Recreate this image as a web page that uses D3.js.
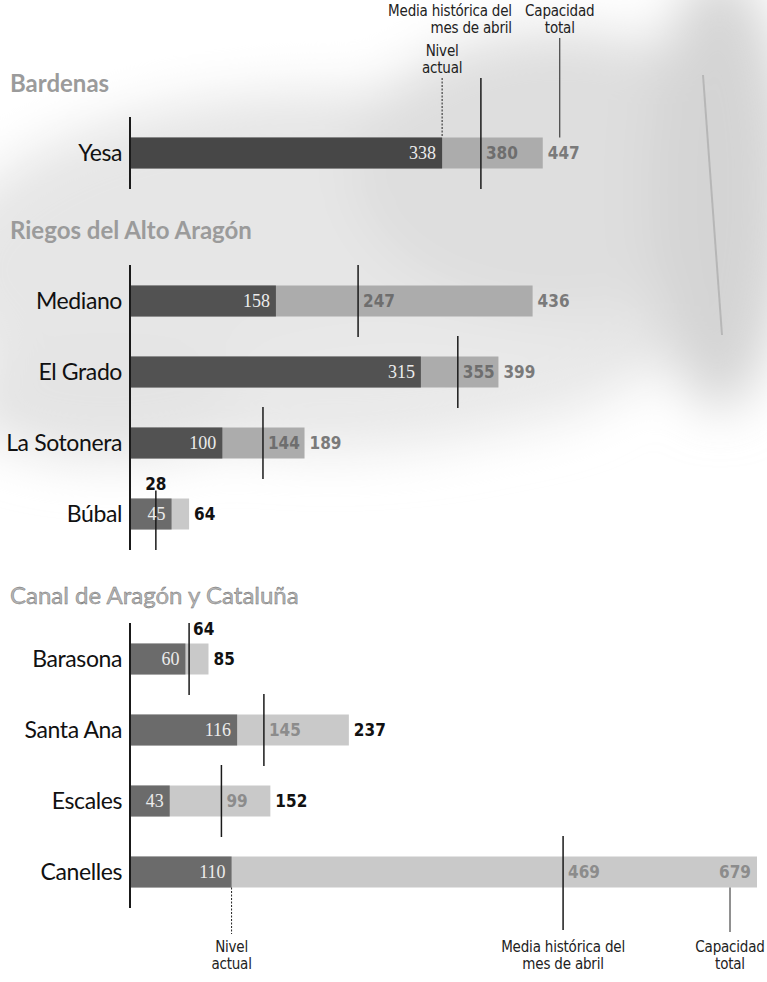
<!DOCTYPE html>
<html lang="es">
<head>
<meta charset="UTF-8">
<title>Embalses</title>
<script src="https://cdn.jsdelivr.net/npm/d3@7"></script>
<style>
body { margin: 0; background: #fff; }
text { font-family: Lato, 'Open Sans', sans-serif; }
.cond { font-family: 'Liberation Sans Narrow', 'DejaVu Sans Condensed', sans-serif; font-stretch: condensed; }
.serif { font-family: 'Liberation Serif', 'DejaVu Serif', serif; }
.row-label { font-size: 23px; fill: #111; letter-spacing: -0.4px; }
.note { font-size: 15px; fill: #222; letter-spacing: -0.2px; }
</style>
</head>
<body>
<svg width="767" height="982"></svg>
<script>

// data (hm3)
var secciones = ["Bardenas", "Riegos del Alto Aragón", "Canal de Aragón y Cataluña"];
var embalses = ["Yesa", "Mediano", "El Grado", "La Sotonera", "Búbal", "Barasona", "Santa Ana", "Escales", "Canelles"];
var seccionDe = [0, 1, 1, 1, 1, 2, 2, 2, 2];
var nivelActual = [338, 158, 315, 100, 45, 60, 116, 43, 110];
var mediaAbril = [380, 247, 355, 144, 28, 64, 145, 99, 469];
var capacidad = [447, 436, 399, 189, 64, 85, 237, 152, 679];

var svg = d3.select("svg");
var W = 767;

// layout
var titleY = [84, 231, 596];
var firstRowY = [153, 301, 659];
var rowStep = 71;
var barH = 31;
var photoBottom = 470;

var x = d3.scaleLinear().domain([0, d3.max(capacidad)]).range([130, 757]);

// rows as objects, y from a point scale per section
var rows = embalses.map(function(name, i) {
    return {name: name, sec: seccionDe[i], nivel: nivelActual[i], media: mediaAbril[i], cap: capacidad[i]};
});
secciones.forEach(function(s, si) {
    var names = rows.filter(function(r) { return r.sec == si; }).map(function(r) { return r.name; });
    var y = d3.scalePoint().domain(names)
        .range([firstRowY[si], firstRowY[si] + (names.length - 1) * rowStep]);
    rows.forEach(function(r) { if (r.sec == si) r.y = y(r.name); });
});
rows.forEach(function(r) {
    r.photo = r.y < photoBottom;
    r.mediaCentered = r.media < r.nivel;
    r.mediaAbove = r.mediaCentered || x(r.cap) - x(r.media) < 30;
    r.capInside = x(r.cap) + 40 > W;
});

// background photo (blurred grey blotches)
var defs = svg.append("defs");
defs.append("filter").attr("id", "blur").attr("x", "-50%").attr("y", "-50%")
    .attr("width", "200%").attr("height", "200%")
    .append("feGaussianBlur").attr("stdDeviation", 26);
var bg = svg.append("g").attr("filter", "url(#blur)");
[
    [330, 270, 390, 180, "#e6e6e6"],
    [560, 170, 210, 140, "#dedede"],
    [720, 190, 70, 220, "#d4d4d4"],
    [110, 400, 150, 60, "#e4e4e4"],
    [420, 380, 200, 55, "#e9e9e9"],
    [160, 25, 230, 55, "#ffffff"]
].forEach(function(e) {
    bg.append("ellipse").attr("cx", e[0]).attr("cy", e[1]).attr("rx", e[2]).attr("ry", e[3]).attr("fill", e[4]);
});
svg.append("line").attr("x1", 703).attr("y1", 75).attr("x2", 722).attr("y2", 335)
    .attr("stroke", "#9a9a9a").attr("stroke-width", 2).attr("opacity", 0.5);

// section titles
svg.selectAll(".sec-title")
    .data(secciones)
    .enter()
    .append("text")
    .attr("class", "sec-title")
    .attr("x", 10)
    .attr("y", function(d, i) { return titleY[i]; })
    .attr("dy", "0.35em")
    .style("font-size", "24px")
    .style("font-weight", function(d, i) { return i < 2 ? "bold" : "normal"; })
    .attr("fill", function(d, i) { return i < 2 ? "#9b9b9b" : "#b4b4b4"; })
    .attr("stroke", function(d, i) { return i < 2 ? "none" : "#666"; })
    .attr("stroke-width", 0.4)
    .text(function(d) { return d; });

// bars
var g = svg.selectAll(".row").data(rows).enter().append("g").attr("class", "row");

g.append("rect")
    .attr("x", x(0))
    .attr("y", function(d) { return d.y - barH / 2; })
    .attr("width", function(d) { return x(d.cap) - x(0); })
    .attr("height", barH)
    .attr("fill", function(d) { return d.photo ? "#acacac" : "#c9c9c9"; });

g.append("rect")
    .attr("x", x(0))
    .attr("y", function(d) { return d.y - barH / 2; })
    .attr("width", function(d) { return x(d.nivel) - x(0); })
    .attr("height", barH)
    .attr("fill", function(d, i) { return i == 0 ? "#474747" : (d.photo ? "#525252" : "#6b6b6b"); });

// row labels
g.append("text")
    .attr("class", "row-label")
    .attr("x", 122)
    .attr("y", function(d) { return d.y; })
    .attr("dy", "0.36em")
    .attr("text-anchor", "end")
    .text(function(d) { return d.name; });

// axis lines per section
secciones.forEach(function(s, si) {
    var ys = rows.filter(function(r) { return r.sec == si; }).map(function(r) { return r.y; });
    svg.append("line")
        .attr("x1", x(0)).attr("x2", x(0))
        .attr("y1", d3.min(ys) - 36).attr("y2", d3.max(ys) + 36)
        .attr("stroke", "#1a1a1a").attr("stroke-width", 2);
});

// media lines
g.append("line")
    .attr("x1", function(d) { return x(d.media); })
    .attr("x2", function(d) { return x(d.media); })
    .attr("y1", function(d, i) {
        if (i == 0) return 78;
        return d.mediaCentered ? d.y - barH / 2 - 8 : d.y - 36;
    })
    .attr("y2", function(d, i) { return i == rows.length - 1 ? 930 : d.y + 36; })
    .attr("stroke", "#1a1a1a").attr("stroke-width", 1.5);

// nivel value, inside dark bar
g.append("text")
    .attr("class", "serif")
    .attr("x", function(d) { return x(d.nivel) - 6; })
    .attr("y", function(d) { return d.y; })
    .attr("dy", "0.36em")
    .attr("text-anchor", "end")
    .style("font-size", "18px")
    .attr("fill", "#ececec")
    .text(function(d) { return d.nivel; });

// media value: inside light bar, or above when there is no room
g.append("text")
    .attr("class", "cond")
    .attr("x", function(d) {
        if (d.mediaCentered) return x(d.media);
        return x(d.media) + (d.mediaAbove ? 4 : 5);
    })
    .attr("y", function(d) { return d.mediaAbove ? d.y - barH / 2 - 15 : d.y; })
    .attr("dy", "0.36em")
    .attr("text-anchor", function(d) { return d.mediaCentered ? "middle" : "start"; })
    .style("font-size", "17px")
    .style("font-weight", "bold")
    .attr("fill", function(d) {
        return d.mediaAbove ? "#111" : (d.photo ? "#6e6e6e" : "#8c8c8c");
    })
    .text(function(d) { return d.media; });

// capacity value: after the bar, inside when it would leave the page
g.append("text")
    .attr("class", "cond")
    .attr("x", function(d) { return d.capInside ? x(d.cap) - 6 : x(d.cap) + 5; })
    .attr("y", function(d) { return d.y; })
    .attr("dy", "0.36em")
    .attr("text-anchor", function(d) { return d.capInside ? "end" : "start"; })
    .style("font-size", "17px")
    .style("font-weight", "bold")
    .attr("fill", function(d) {
        if (d.capInside) return "#8c8c8c";
        return d.photo ? "#7a7a7a" : "#111";
    })
    .text(function(d) { return d.cap; });

// annotations, one text element per line
function note(cx, y, lines, anchor) {
    lines.forEach(function(l, i) {
        svg.append("text").attr("class", "cond note")
            .attr("text-anchor", anchor || "middle")
            .attr("x", cx).attr("y", y + i * 17)
            .text(l);
    });
}
function pointer(px, y1, y2, dash) {
    svg.append("line").attr("x1", px).attr("x2", px).attr("y1", y1).attr("y2", y2)
        .attr("stroke", "#222").attr("stroke-width", 1)
        .attr("stroke-dasharray", dash ? "2,1.5" : null);
}

var firstRow = rows[0], lastRow = rows[rows.length - 1];
var capFirst = x(firstRow.cap) + 17, capLast = x(lastRow.cap) - 27;

note(x(firstRow.nivel), 56, ["Nivel", "actual"]);
pointer(x(firstRow.nivel), 78, firstRow.y - barH / 2, true);
note(x(firstRow.media) + 31, 16, ["Media histórica del", "mes de abril"], "end");
note(capFirst, 16, ["Capacidad", "total"]);
pointer(capFirst, 38, firstRow.y - barH / 2);

pointer(x(lastRow.nivel), lastRow.y + barH / 2, 934, true);
pointer(capLast, lastRow.y + barH / 2, 932);
note(x(lastRow.nivel), 952, ["Nivel", "actual"]);
note(x(lastRow.media), 952, ["Media histórica del", "mes de abril"]);
note(capLast, 952, ["Capacidad", "total"]);

</script>
</body>
</html>
